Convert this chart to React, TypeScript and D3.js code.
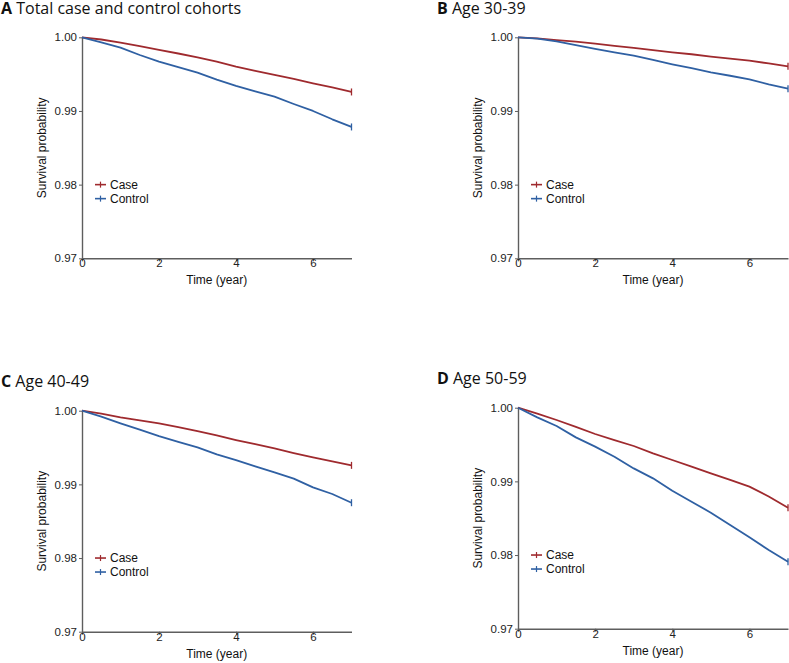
import React, { useEffect, useRef } from 'react';
import * as d3 from 'd3';

// time grid (years) shared by every curve
const times = [0, 0.5, 1, 1.5, 2, 2.5, 3, 3.5, 4, 4.5, 5, 5.5, 6, 6.5, 7];

const totalCase = [1.0, 0.9997, 0.99928, 0.9988, 0.99828, 0.9978, 0.99729, 0.9967, 0.99602, 0.99545, 0.99489, 0.99435, 0.99376, 0.9932, 0.99258];
const totalControl = [1.0, 0.99932, 0.9986, 0.9976, 0.9967, 0.99595, 0.9952, 0.99425, 0.9934, 0.99265, 0.99195, 0.99095, 0.99, 0.98887, 0.98783];

const age30Case = [1.0, 0.99985, 0.99962, 0.9994, 0.99914, 0.99885, 0.99856, 0.99826, 0.99796, 0.9977, 0.99738, 0.9971, 0.99683, 0.99645, 0.99606];
const age30Control = [1.0, 0.99982, 0.99946, 0.99895, 0.99842, 0.99795, 0.99751, 0.99692, 0.99633, 0.9958, 0.99525, 0.99478, 0.9943, 0.99362, 0.99303];

const age40Case = [1.0, 0.9996, 0.9991, 0.9987, 0.99828, 0.99778, 0.99724, 0.99665, 0.99602, 0.99545, 0.99489, 0.99425, 0.99367, 0.99313, 0.99258];
const age40Control = [1.0, 0.99919, 0.99828, 0.99742, 0.99656, 0.99577, 0.99502, 0.99407, 0.9933, 0.99245, 0.99163, 0.99077, 0.98959, 0.98869, 0.98751];

const age50Case = [1.0, 0.9992, 0.99833, 0.9974, 0.99643, 0.9956, 0.9948, 0.9938, 0.9929, 0.992, 0.99109, 0.9902, 0.98928, 0.98795, 0.98643];
const age50Control = [1.0, 0.99869, 0.99751, 0.99597, 0.99471, 0.99335, 0.99176, 0.99041, 0.98873, 0.98724, 0.98575, 0.98407, 0.9824, 0.98068, 0.9791];

const xTicks = [0, 2, 4, 6];
const yTicks = [0.97, 0.98, 0.99, 1.0];
const groups = ['Case', 'Control'];

const CASE_COLOR = '#9f2a2e';
const CONTROL_COLOR = '#2f60a3';
const AXIS_COLOR = '#5e5e5e';
const SANS = "'Liberation Sans', Arial, sans-serif";

interface PanelProps {
    letter: string;
    title: string;
    titleX: number;
    left: number;
    right: number;
    top: number;
    bottom: number;
    caseVals: number[];
    controlVals: number[];
}

const Panel: React.FC<PanelProps> = ({ letter, title, titleX, left, right, top, bottom, caseVals, controlVals }) => {
    const gRef = useRef<SVGGElement>(null);

    useEffect(() => {
        if (!gRef.current) return;
        const g = d3.select(gRef.current);
        g.selectAll("*").remove();

        const x = d3.scaleLinear().domain([0, 7]).range([left, right]);
        const y = d3.scaleLinear().domain([0.97, 1.0]).range([bottom, top]);

        // Title
        const t = g.append("text")
            .attr("x", titleX)
            .attr("y", top - 23.5)
            .style("font-family", "'Open Sans', sans-serif")
            .style("font-size", "16px")
            .attr("fill", "#111");
        t.append("tspan").attr("font-weight", "bold").text(letter);
        t.append("tspan").text(" " + title);

        // Axes
        const yAxis = d3.axisLeft(y).tickValues(yTicks).tickFormat(d3.format(".2f")).tickSize(3).tickSizeOuter(0).tickPadding(2);
        g.append("g")
            .attr("transform", `translate(${left},0)`)
            .call(yAxis)
            .call(s => s.select(".domain").attr("stroke", AXIS_COLOR).attr("stroke-width", 1.4))
            .call(s => s.selectAll(".tick line").attr("stroke", AXIS_COLOR))
            .selectAll("text")
            .style("font-family", SANS)
            .style("font-size", "11.5px")
            .attr("fill", "#222");

        const xAxis = d3.axisBottom(x).tickValues(xTicks).tickFormat(d3.format("d")).tickSize(3).tickSizeOuter(0).tickPadding(-2);
        g.append("g")
            .attr("transform", `translate(0,${bottom})`)
            .call(xAxis)
            .call(s => s.select(".domain").attr("stroke", AXIS_COLOR).attr("stroke-width", 1.4))
            .call(s => s.selectAll(".tick line").attr("stroke", AXIS_COLOR))
            .selectAll("text")
            .style("font-family", SANS)
            .style("font-size", "11.5px")
            .attr("fill", "#222");

        // Axis titles
        g.append("text")
            .attr("transform", `translate(${left - 36},${(top + bottom) / 2}) rotate(-90)`)
            .attr("text-anchor", "middle")
            .style("font-family", SANS)
            .style("font-size", "12px")
            .attr("fill", "#111")
            .text("Survival probability");

        g.append("text")
            .attr("x", (left + right) / 2)
            .attr("y", bottom + 26)
            .attr("text-anchor", "middle")
            .style("font-family", SANS)
            .style("font-size", "12px")
            .attr("fill", "#111")
            .text("Time (year)");

        // Curves
        const line = d3.line<number>()
            .x((_, i) => x(times[i]))
            .y(d => y(d));

        const series = [
            { name: 'Case', values: caseVals, color: CASE_COLOR },
            { name: 'Control', values: controlVals, color: CONTROL_COLOR },
        ];

        series.forEach(s => {
            g.append("path")
                .datum(s.values)
                .attr("d", line)
                .attr("fill", "none")
                .attr("stroke", s.color)
                .attr("stroke-width", 1.8)
                .attr("stroke-linejoin", "round");

            // censor mark at the end of follow-up
            const last = s.values.length - 1;
            g.append("line")
                .attr("x1", x(times[last]))
                .attr("x2", x(times[last]))
                .attr("y1", y(s.values[last]) - 3.5)
                .attr("y2", y(s.values[last]) + 3.5)
                .attr("stroke", s.color)
                .attr("stroke-width", 1.3);
        });

        // Legend
        const legend = g.append("g").attr("transform", `translate(${left + 13},${y(0.98)})`);
        groups.forEach((name, i) => {
            const color = i === 0 ? CASE_COLOR : CONTROL_COLOR;
            const row = legend.append("g").attr("transform", `translate(0,${i * 14})`);
            row.append("line").attr("x1", 0).attr("x2", 11).attr("y1", 0).attr("y2", 0)
                .attr("stroke", color).attr("stroke-width", 1.6);
            row.append("line").attr("x1", 5.5).attr("x2", 5.5).attr("y1", -3).attr("y2", 3)
                .attr("stroke", color).attr("stroke-width", 1.2);
            row.append("text")
                .attr("x", 15)
                .attr("y", 0)
                .attr("dy", "0.35em")
                .style("font-family", SANS)
                .style("font-size", "12px")
                .attr("fill", "#111")
                .text(name);
        });
    }, [letter, title, titleX, left, right, top, bottom, caseVals, controlVals]);

    return <g ref={gRef} />;
};

export default function App() {
    return (
        <div style={{ position: 'absolute', left: 0, top: 0, background: '#fff' }}>
            <svg width={789} height={663} viewBox="0 0 789 663" style={{ display: 'block' }}>
                <rect width={789} height={663} fill="#fff" />
                <Panel letter="A" title="Total case and control cohorts" titleX={1}
                    left={82} right={351.5} top={37.3} bottom={258.3}
                    caseVals={totalCase} controlVals={totalControl} />
                <Panel letter="B" title="Age 30-39" titleX={437}
                    left={518} right={788} top={37.3} bottom={258.3}
                    caseVals={age30Case} controlVals={age30Control} />
                <Panel letter="C" title="Age 40-49" titleX={1}
                    left={82} right={351.5} top={410.7} bottom={631.7}
                    caseVals={age40Case} controlVals={age40Control} />
                <Panel letter="D" title="Age 50-59" titleX={437}
                    left={518} right={788} top={407.7} bottom={628.7}
                    caseVals={age50Case} controlVals={age50Control} />
            </svg>
        </div>
    );
}
